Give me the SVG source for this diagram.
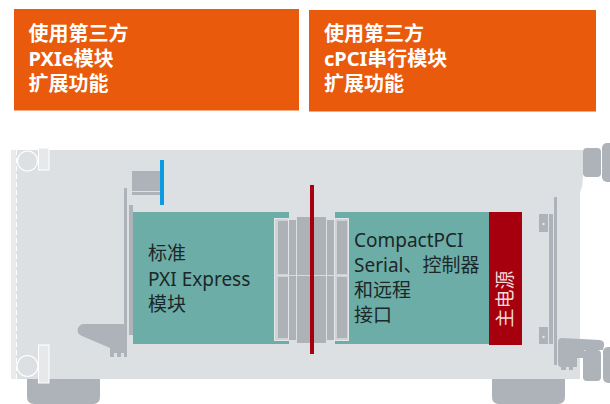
<svg xmlns="http://www.w3.org/2000/svg" width="610" height="404" viewBox="0 0 610 404">
  <style>
    .hdr { fill: #e95a0c; }
    .hdr-t { font-family: "Noto Sans", "Noto Sans CJK SC", sans-serif; font-size: 20px; font-weight: bold; fill: #ffffff; }
    .body { fill: #dde0e3; }
    .part { fill: #adb3b8; }
    .mod { fill: #6cada8; }
    .mod-t { font-family: "Noto Sans", "Noto Sans CJK SC", sans-serif; font-size: 19px; fill: #1c2727; }
    .psu { fill: #a6000f; }
    .psu-t { font-family: "Noto Sans", "Noto Sans CJK SC", sans-serif; font-size: 19px; fill: #f5d9db; }
    .frame { fill: #cfd3d6; stroke: #e4e6e8; stroke-width: 1; }
    .slot { fill: #adb2b7; }
  </style>

  <!-- header callouts -->
  <g id="callout-pxie">
    <rect class="hdr" x="14" y="9" width="285" height="101.5"/>
    <text class="hdr-t" x="28.5" y="41">使用第三方</text>
    <text class="hdr-t" x="28.5" y="66">PXIe模块</text>
    <text class="hdr-t" x="28.5" y="91">扩展功能</text>
  </g>
  <g id="callout-cpci">
    <rect class="hdr" x="309" y="10" width="287" height="101.5"/>
    <text class="hdr-t" x="324" y="41">使用第三方</text>
    <text class="hdr-t" x="324" y="66">cPCI串行模块</text>
    <text class="hdr-t" x="324" y="91">扩展功能</text>
  </g>

  <!-- chassis -->
  <g id="chassis">
    <!-- feet -->
    <path class="part" d="M27 379 H100 V397 Q100 404 93 404 H34 Q27 404 27 397 Z"/>
    <path class="part" d="M492 379 H565 V397 Q565 404 558 404 H499 Q492 404 492 397 Z"/>
    <!-- handles on the right -->
    <rect class="part" x="583" y="148" width="18" height="29" rx="4"/>
    <rect class="part" x="602" y="143" width="14" height="39" rx="5"/>
    <rect class="part" x="583" y="350" width="18" height="31" rx="4"/>
    <rect class="part" x="603" y="347" width="14" height="36" rx="5"/>
    <!-- main body -->
    <path class="body" d="M11 150 H583 V178 Q583 186 580 193 V379 H11 Z"/>
    <!-- left front edge -->
    <rect x="11" y="150" width="5.5" height="229" fill="#e8eaec"/>
    <line x1="16.5" y1="150" x2="16.5" y2="379" stroke="#ffffff" stroke-width="1" stroke-dasharray="5 3"/>
    <!-- front latches -->
    <rect x="38.5" y="148" width="10.5" height="22" fill="#e6e8ea" stroke="#ffffff" stroke-width="1"/>
    <circle cx="27.5" cy="161" r="10" fill="none" stroke="#ffffff" stroke-width="1.2"/>
    <rect x="11" y="143" width="28" height="7" fill="#ffffff"/>
    <rect x="38.5" y="345" width="10.5" height="38" fill="#e6e8ea" stroke="#ffffff" stroke-width="1"/>
    <circle cx="27.5" cy="366" r="10.5" fill="none" stroke="#ffffff" stroke-width="1.2"/>
    <!-- left card guides -->
    <rect class="part" x="124" y="188" width="3" height="169"/>
    <rect class="part" x="129" y="205" width="4" height="130"/>
    <!-- left lever -->
    <path class="part" d="M84 324 H122 Q127 324 127 330 V353 H121 V357 H117 V353 H114 V357 H110 V348 L82 336 Q76 333 78 328 Q80 324 84 324 Z"/>
    <!-- top ejector block -->
    <rect class="part" x="132" y="171" width="28" height="20"/>
    <rect class="part" x="132" y="192" width="28" height="3"/>
    <rect x="160" y="160" width="4" height="45" fill="#0a9be0"/>
    <!-- right card guides -->
    <rect class="part" x="554" y="197" width="3" height="168"/>
    <rect class="part" x="549" y="214" width="4" height="130"/>
    <rect class="part" x="539" y="214" width="9" height="18"/>
    <circle cx="543.5" cy="224" r="1.2" fill="#e4e6e8"/>
    <rect class="part" x="539" y="327" width="9" height="17"/>
    <circle cx="543.5" cy="337" r="1.2" fill="#e4e6e8"/>
    <!-- right lever -->
    <path class="part" d="M562 338 L600 340 Q605 341 604 346 L603 350 H584 V358 H577 V367 H573 V370 H569 V367 H566 V370 H561 V367 Q558 367 558 363 V342 Q558 338 562 338 Z"/>
  </g>

  <!-- PXI Express module -->
  <g id="module-pxie">
    <rect class="mod" x="133" y="212" width="156" height="132"/>
    <text class="mod-t" x="148" y="260">标准</text>
    <text class="mod-t" x="148" y="286">PXI Express</text>
    <text class="mod-t" x="148" y="311">模块</text>
  </g>

  <!-- CompactPCI Serial controller module -->
  <g id="module-cpci">
    <rect class="mod" x="335" y="212" width="154" height="132"/>
    <text class="mod-t" x="354" y="247">CompactPCI</text>
    <text class="mod-t" x="354" y="272">Serial、控制器</text>
    <text class="mod-t" x="354" y="297">和远程</text>
    <text class="mod-t" x="354" y="322">接口</text>
  </g>

  <!-- main power supply -->
  <g id="power-supply">
    <rect class="psu" x="489" y="212" width="33" height="133"/>
    <text class="psu-t" transform="translate(505 299) rotate(-90)" text-anchor="middle" dominant-baseline="central">主电源</text>
  </g>

  <!-- backplane connectors -->
  <g id="backplane">
    <rect class="frame" x="274.5" y="218.5" width="14" height="122"/>
    <rect class="slot" x="278" y="221" width="10" height="53"/>
    <rect class="slot" x="278" y="277" width="10" height="61"/>
    <rect class="slot" x="289" y="220" width="7" height="120"/>
    <rect class="slot" x="297" y="217" width="29" height="126"/>
    <rect class="slot" x="327" y="220" width="7" height="120"/>
    <rect class="frame" x="334.5" y="218.5" width="14" height="122"/>
    <rect class="slot" x="337" y="221" width="10" height="53"/>
    <rect class="slot" x="337" y="277" width="10" height="61"/>
    <line x1="274" y1="275.5" x2="349" y2="275.5" stroke="#d8dbde" stroke-width="1.2"/>
    <rect x="310" y="185" width="4" height="169" fill="#a6000f"/>
  </g>
</svg>
